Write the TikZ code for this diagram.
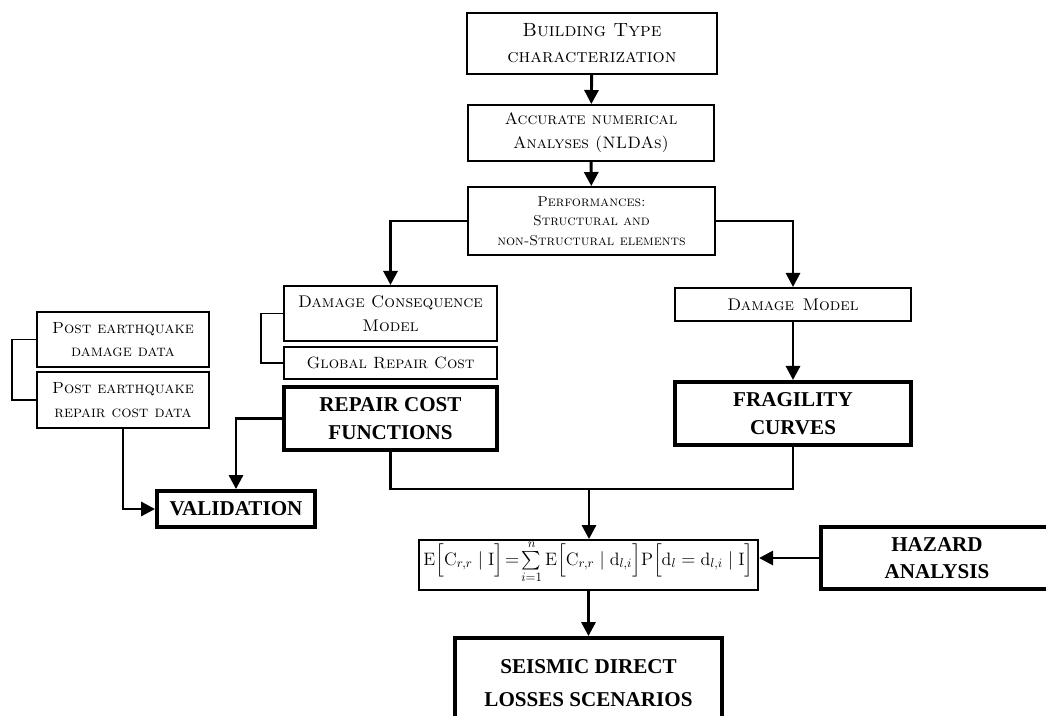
\documentclass[tikz,border=0pt]{standalone}
\usepackage{amsmath}
\usepackage{fontspec}
\newfontfamily\timesfont{Liberation Serif}
\usetikzlibrary{arrows.meta}
\tikzset{
  box/.style={draw, line width=1.3pt, inner sep=1pt, align=center, font=\fontsize{12}{17}\selectfont\scshape},
  smallbox/.style={box, font=\fontsize{10.2}{14}\selectfont\scshape},
  heavybox/.style={draw, line width=2.7pt, inner sep=1pt, align=center, font=\fontsize{15}{19.5}\selectfont\timesfont\bfseries},
  arr/.style={line width=2.1pt, -{Triangle[length=10pt,width=10pt]}},
  link/.style={line width=2.1pt},
  brace/.style={line width=1pt}
}
\begin{document}
\begin{tikzpicture}[x=0.025cm,y=-0.025cm]
\useasboundingbox (0,0) rectangle (1046,716);
% model chain
\node[box, minimum width=6.25cm, minimum height=1.53cm, font=\fontsize{13.6}{18.5}\selectfont\scshape] (build) at (592,43.5) {Building Type\\characterization};
\node[box, minimum width=6.15cm, minimum height=1.4cm, font=\fontsize{11.8}{17}\selectfont\scshape] (anal) at (591,133) {Accurate numerical\\Analyses (NLDAs)};
\node[smallbox, minimum width=6.18cm, minimum height=1.7cm] (perf) at (591.5,221) {Performances:\\Structural and\\non-Structural elements};
\node[box, minimum width=5.33cm, minimum height=1.38cm] (dcm) at (390.5,313.5) {Damage Consequence\\Model};
\node[smallbox, minimum width=5.33cm, minimum height=0.8cm, font=\fontsize{11.6}{14}\selectfont\scshape] (grc) at (390.5,363) {Global Repair Cost};
\node[heavybox, minimum width=5.33cm, minimum height=1.58cm] (rcf) at (390.5,418.5) {REPAIR COST\\FUNCTIONS};
\node[box, minimum width=5.9cm, minimum height=0.83cm] (dm) at (793,304.5) {Damage\enspace Model};
\node[heavybox, minimum width=5.9cm, minimum height=1.58cm] (frag) at (793,413.5) {FRAGILITY\\CURVES};
% observed data
\node[box, minimum width=4.3cm, minimum height=1.38cm, font=\fontsize{11.5}{16.5}\selectfont\scshape] (pdd) at (123,339.5) {Post earthquake\\damage data};
\node[box, minimum width=4.3cm, minimum height=1.4cm, font=\fontsize{11.5}{16.5}\selectfont\scshape] (prc) at (123,400) {Post earthquake\\repair cost data};
\node[heavybox, minimum width=3.95cm, minimum height=0.9cm] (val) at (236,509) {VALIDATION};
% loss estimate
\node[draw, line width=1.3pt, inner sep=0pt, minimum width=8.48cm, text height=0.625cm, text depth=0.625cm, font=\fontsize{14}{16}\selectfont] (form) at (588.5,565)
  {\resizebox{8.25cm}{!}{$\mathrm{E}\Bigl[\mathrm{C}_{r,r}\mid\mathrm{I}\Bigr]\!=\!\sum\limits_{i=1}^{n}\mathrm{E}\Bigl[\mathrm{C}_{r,r}\mid\mathrm{d}_{l,i}\Bigr]\mathrm{P}\Bigl[\mathrm{d}_{l}=\mathrm{d}_{l,i}\mid\mathrm{I}\Bigr]$}};
\node[heavybox, minimum width=5.8cm, minimum height=1.55cm] (haz) at (937,558) {HAZARD\\ANALYSIS};
\node[heavybox, minimum width=6.68cm, minimum height=2.25cm, font=\fontsize{15}{23}\selectfont\timesfont\bfseries] (sdl) at (588.5,683) {SEISMIC DIRECT\\LOSSES SCENARIOS};
% connectors
\draw[arr] (build) -- (anal);
\draw[arr] (anal) -- (perf);
\draw[arr] (perf.west) -| (dcm.north);
\draw[arr] (perf.east) -| (dm.north);
\draw[arr] (dm) -- (frag);
\draw[brace] (dcm.west) -- ++(-22,0) |- (grc.west);
\draw[brace] (pdd.west) -- ++(-24,0) |- (prc.west);
\draw[arr] (rcf.west) -| (val.north);
\draw[arr] (prc.south) |- (val.west);
\coordinate (join) at (589,489);
\draw[link] (rcf.south) |- (join);
\draw[link] (frag.south) |- (join);
\draw[arr] (join) -- (join |- form.north);
\draw[arr] (haz.west) -- (haz.west -| form.east);
\draw[arr] (form) -- (sdl);
\end{tikzpicture}
\end{document}
